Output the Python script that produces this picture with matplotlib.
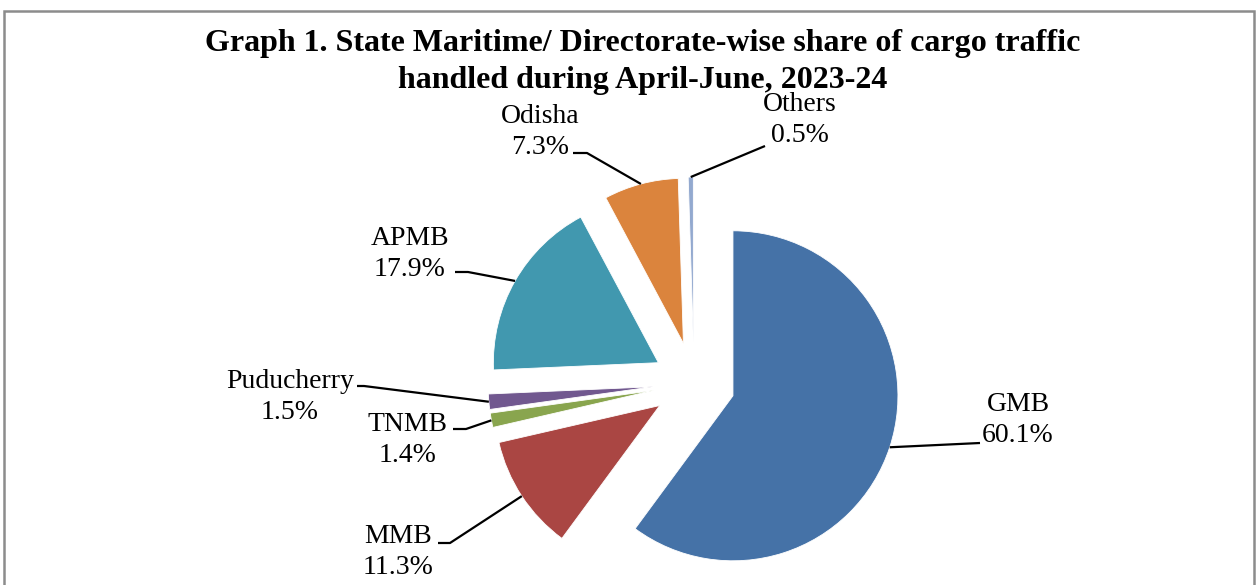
import matplotlib
matplotlib.use("Agg")
import matplotlib.pyplot as plt
import matplotlib.patches as mpatches
import numpy as np

categories = ["GMB", "MMB", "TNMB", "Puducherry", "APMB", "Odisha", "Others"]
shares = [60.1, 11.3, 1.4, 1.5, 17.9, 7.3, 0.5]
colors = ["#4572A7", "#AA4643", "#89A54E", "#71588F", "#4198AF", "#DB843D", "#93A9CF"]
title = "Graph 1. State Maritime/ Directorate-wise share of cargo traffic\nhandled during April-June, 2023-24"

W, H = 1257, 585
fig = plt.figure(figsize=(W / 100, H / 100), dpi=100)
ax = fig.add_axes([0, 0, 1, 1])

def px(x, y):
    return (x, H - y)

center = px(694, 383)
radius = 165
expl = 41

wedges, _ = ax.pie(shares, colors=colors, startangle=90, counterclock=False,
                   center=center, radius=radius, explode=[expl] * len(shares),
                   wedgeprops=dict(edgecolor="white", linewidth=0.6), frame=False)
ax.set_xlim(0, W)
ax.set_ylim(0, H)
ax.set_aspect("auto")
ax.axis("off")

# label text centers (pixel coords) and leader elbow points
label_pos = {
    "GMB": (1018, 420),
    "MMB": (398, 552),
    "TNMB": (408, 440),
    "Puducherry": (290, 397),
    "APMB": (410, 254),
    "Odisha": (540, 132),
    "Others": (800, 120),
}
leader_pts = {
    "GMB": [(980, 443)],
    "MMB": [(438, 543), (450, 543)],
    "TNMB": [(453, 429), (466, 429)],
    "Puducherry": [(357, 386), (364, 386)],
    "APMB": [(455, 272), (468, 272)],
    "Odisha": [(573, 153), (587, 153)],
    "Others": [(765, 146)],
}

fs = 20
for w, name, val in zip(wedges, categories, shares):
    tm = np.deg2rad((w.theta1 + w.theta2) / 2)
    cx, cy = w.center
    ax_, ay_ = cx + radius * np.cos(tm), cy + radius * np.sin(tm)
    pts = [px(*p) for p in leader_pts[name]] + [(ax_, ay_)]
    xs, ys = zip(*pts)
    ax.plot(xs, ys, color="black", lw=1.6, solid_capstyle="butt")
    lx, ly = px(*label_pos[name])
    ax.text(lx, ly, f"{name}\n{val:.1f}%", ha="center", va="center",
            fontsize=fs, family="Liberation Serif", linespacing=1.33)

tx, ty = px(643, 62)
ax.text(tx, ty, title, ha="center", va="center", fontsize=23, fontweight="bold",
        family="Liberation Serif", linespacing=1.36)

frame = mpatches.Rectangle((4, -10), 1250, H - 11 + 10, fill=False,
                           edgecolor="#8c8c8c", linewidth=1.8, transform=ax.transData,
                           clip_on=False)
ax.add_patch(frame)

fig.savefig("out.png", dpi=100)
